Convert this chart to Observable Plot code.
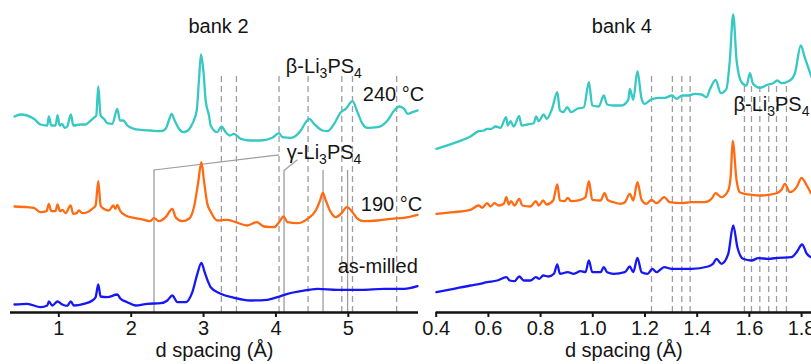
<!DOCTYPE html>
<html><head><meta charset="utf-8">
<script src="https://cdn.jsdelivr.net/npm/d3@7"></script>
<script src="https://cdn.jsdelivr.net/npm/@observablehq/plot@0.6"></script>
<style>
body{margin:0;background:#fff;}
#wrap{position:relative;width:811px;height:364px;overflow:hidden;font-family:"Liberation Sans",Arial,sans-serif;}
#left,#right{position:absolute;top:0;}
#left{left:0;width:420px;z-index:2;}
#right{left:420px;width:391px;z-index:1;}
</style></head><body>
<div id="wrap"><div id="left"></div><div id="right"></div></div>
<script>
// ---------- bank 2 (d spacing in Å, intensity offset in arbitrary units) ----------
const b2_240_d = [0.387,0.47,0.654,0.747,0.84,0.862,0.895,0.954,0.982,1.01,1.047,1.079,1.116,1.166,1.2,1.30,1.37,1.44,1.484,1.517,1.545,1.577,1.622,1.67,1.739,1.808,1.844,1.89,1.946,2.037,2.13,2.268,2.407,2.476,2.52,2.559,2.60,2.66,2.72,2.784,2.845,2.905,2.936,2.964,2.997,3.029,3.075,3.098,3.19,3.246,3.306,3.365,3.42,3.513,3.651,3.79,3.95,4.043,4.09,4.205,4.343,4.412,4.458,4.527,4.643,4.712,4.804,4.896,4.965,5.058,5.127,5.196,5.266,5.404,5.542,5.634,5.703,5.772,5.819,5.888,5.957];
const b2_240_i = [196,198,193.7,188,187,196,187,187,197.3,187,188.7,184.7,186,198,187,188,188,192,194.7,197,226,197,193.7,189.3,188.7,203.7,192,192,187,183.7,182.7,182,181.3,183.7,192,198.7,192,183.7,180.3,182,188.7,202,232,258,242,212,197,187,180.3,186,180.3,177,178.7,173.7,172,172,174.7,179.3,175.3,174.7,182,190.3,193.7,188.7,182,181.3,188.7,200.3,203.7,211.3,200.3,188.7,184.7,185.3,192,202,206,203.7,198.7,200.3,202];

const b2_190_d = [0.387,0.563,0.654,0.747,0.83,0.862,0.895,0.954,0.982,1.014,1.051,1.093,1.162,1.2,1.245,1.277,1.324,1.393,1.462,1.508,1.545,1.577,1.622,1.692,1.752,1.784,1.808,1.844,1.922,2.037,2.176,2.259,2.314,2.383,2.476,2.568,2.614,2.707,2.798,2.867,2.923,2.97,3.005,3.052,3.098,3.19,3.329,3.444,3.606,3.734,3.836,3.974,4.043,4.104,4.159,4.297,4.436,4.55,4.61,4.647,4.689,4.758,4.827,4.906,4.979,5.058,5.127,5.219,5.404,5.588,5.772,5.957];
const b2_190_i = [106,105.3,104.7,100.3,101.3,108.7,101.3,101.3,108,101.3,102.7,99.3,107,98.7,99.3,102,99.3,100.3,103.7,107,131.3,107,103.7,102,107,103.7,107.7,102,97,94.7,92.7,91.3,94.3,91.3,95.3,103.7,95.3,91.3,93.7,105.3,128.7,150.3,132,108.7,101,92,92.7,90.3,87,90.3,86,85.3,90.3,96,90.3,89.3,93.7,102,112,119.7,112,100.3,95.3,99.3,105.3,100.3,93.7,91.3,92,93.7,94.7,97.7];

const b2_mill_d = [0.387,0.563,0.747,0.84,0.862,0.909,0.982,1.047,1.116,1.166,1.207,1.346,1.462,1.508,1.545,1.577,1.67,1.808,1.853,1.946,2.061,2.223,2.407,2.5,2.568,2.638,2.752,2.845,2.914,2.97,3.015,3.075,3.098,3.236,3.42,3.651,3.882,4.02,4.159,4.343,4.574,4.851,5.173,5.495,5.772,5.957];
const b2_mill_i = [8,8.7,5.3,7,11,7,11,8,6.7,11,7,8.7,12,15.3,28,16,15.3,18,13.7,10.3,7,8.7,9.3,12,17,10.3,10.3,20.3,38.7,49.7,40.3,28.7,25.3,18.7,14.7,12,12.7,15.3,18.7,21.3,23.7,22.7,22.7,23.7,23.7,26.3];

// ---------- bank 4 ----------
const b4_240_d = [0.401,0.467,0.531,0.563,0.582,0.595,0.611,0.627,0.646,0.668,0.674,0.685,0.697,0.718,0.727,0.749,0.774,0.783,0.793,0.812,0.823,0.844,0.864,0.874,0.887,0.902,0.917,0.94,0.966,0.985,0.998,1.023,1.042,1.055,1.08,1.11,1.136,1.142,1.155,1.171,1.187,1.199,1.222,1.251,1.276,1.304,1.321,1.343,1.366,1.391,1.417,1.436,1.448,1.471,1.49,1.512,1.525,1.538,1.551,1.57,1.589,1.602,1.614,1.64,1.672,1.691,1.707,1.723,1.755,1.774,1.797,1.812,1.825,1.838];
const b4_240_i = [163.7,169.3,176,181.3,182,183.7,183.7,186,184.7,195.3,187,191.3,186,196.3,187,188,189.3,196,191.3,198,193.7,203.7,220.3,202,200.3,205.3,200.3,203.7,205.3,230.3,207,206,217,208,207,207,212.7,223.7,212.7,241.3,213.7,208.7,212.7,214.7,214.7,217,213.7,217,217,218.7,218,215.3,222.7,232.7,219.3,223.7,252,298,252,230.3,227,239.3,228.7,224.7,228,229.3,232,229.3,232,238.7,267,255.3,245.3,235.3];

const b4_190_d = [0.401,0.467,0.531,0.563,0.576,0.595,0.608,0.623,0.64,0.659,0.669,0.678,0.687,0.7,0.718,0.73,0.761,0.782,0.793,0.81,0.823,0.848,0.864,0.874,0.892,0.904,0.917,0.953,0.972,0.985,0.998,1.03,1.045,1.057,1.08,1.106,1.123,1.142,1.155,1.171,1.187,1.206,1.225,1.244,1.274,1.295,1.34,1.378,1.429,1.455,1.471,1.493,1.519,1.529,1.536,1.551,1.563,1.583,1.608,1.64,1.672,1.704,1.723,1.736,1.755,1.781,1.8,1.82,1.836];
const b4_190_i = [98.7,100.3,102.7,107,104.7,109.3,106,109.3,107,108.7,115.3,108,111.3,107,113.7,107,106,111.3,107,112,108,112,128,112,111.3,114.7,111.3,112.7,115.3,131.3,112.7,112,119.3,112.7,110.3,108.7,110.3,118.7,112,130.3,112.7,108.7,112.7,109.3,115.3,110.3,109.3,110.3,110.3,113.7,119.3,115.3,122,138.7,171.5,132,120.3,118.7,117.7,117,117.7,119.3,122.7,128.7,120.3,125.3,134.7,127,119.3];

const b4_mill_d = [0.401,0.467,0.531,0.567,0.595,0.634,0.669,0.682,0.7,0.718,0.736,0.761,0.782,0.795,0.81,0.831,0.851,0.864,0.874,0.904,0.927,0.953,0.972,0.985,0.998,1.03,1.042,1.055,1.08,1.123,1.142,1.155,1.171,1.187,1.21,1.228,1.244,1.274,1.302,1.378,1.442,1.461,1.474,1.493,1.519,1.538,1.554,1.576,1.608,1.634,1.672,1.71,1.761,1.781,1.802,1.82,1.836];
const b4_mill_i = [20.3,23.7,27,28.7,30.3,32,35.3,32,31.3,36,32,32,35.3,33.7,37,36,38.7,48,38.7,40.3,38.7,41.3,40.3,52,40.3,40.3,45.3,40.3,38.7,40.3,46,40.3,54.7,40.3,38.7,43.7,40.3,45.3,43.7,43.7,46,48.7,53.7,48.7,58.7,87,65.3,53.7,52,54.3,53.7,54.7,55.3,60.3,68,58.7,55.3];

// ---------- reflection markers ----------
const b2_betaD = [3.246,3.454,4.043,4.444,4.91,5.058,5.668];
const b2_betaTop = 236;
const b2_gammaD = [2.315,4.112,4.651,4.99];
const b2_gammaTop = [142.5,142,142,142];
const b2_gammaLinkFrom = [[2.315,142.5],[4.112,142]];
const b2_gammaLinkTo = [[4.043,157.7],[4.297,152.7]];
const b4_betaD1 = [1.225,1.305,1.341,1.373];
const b4_betaD2 = [1.581,1.608,1.64,1.674,1.704,1.742];
const b4_betaTop1 = 237, b4_betaTop2 = 228;

// ---------- text ----------
const b2_labelsStart = [
  {d:4.137, i:239.3, t:"β-Li3PS4"},
  {d:5.2, i:211.5, t:"240 °C"},
  {d:4.151, i:153.5, t:"γ-Li3PS4"},
  {d:5.173, i:102, t:"190 °C"}
];
const b2_labelsEnd = [{d:5.96, i:40, t:"as-milled"}];
const b4_labelsStart = [{d:1.539, i:201.3, t:"β-Li3PS4"}];
const b2_ticks = [1,2,3,4,5];
const b4_ticks = [0.4,0.6,0.8,1.0,1.2,1.4,1.6,1.8];

const cyan = "#36c8c3", orange = "#ff6b12", blue = "#1717f5";
const FONT = "'Liberation Sans', Arial, Helvetica, sans-serif";
const INK = "#151515";
const zipS = (d, i) => d.map((v, k) => ({d: v, i: i[k]}));

function lines(sets) {
  return sets.map(([d, i, c]) => Plot.line(zipS(d, i), {x: "d", y: "i", stroke: c, strokeWidth: 2.3, curve: "monotone-x"}));
}
const dashStyle = {stroke: "#9d9d9d", strokeWidth: 1.3, strokeDasharray: "6,4"};
const axisOpts = {tickSize: 5, tickPadding: 3, strokeWidth: 2, fontSize: 20, fill: INK, label: "d spacing (Å)", labelAnchor: "center", labelOffset: 44, labelArrow: "none"};

const left = Plot.plot({
  width: 420, height: 364, marginLeft: 10, marginRight: 2, marginTop: 0, marginBottom: 52,
  style: {background: "transparent", overflow: "visible", fontFamily: FONT, fontSize: "20px", color: INK},
  x: {domain: [0.332, 5.97]},
  y: {domain: [0, 312], axis: null},
  marks: [
    Plot.ruleX(b2_betaD.map(d => ({d})), {x: "d", y1: 0, y2: b2_betaTop, ...dashStyle}),
    Plot.ruleX(b2_gammaD.map((d, k) => ({d, top: b2_gammaTop[k]})), {x: "d", y1: 0, y2: "top", stroke: "#9d9d9d", strokeWidth: 1.3}),
    Plot.link(b2_gammaLinkFrom.map((p, k) => ({x1: p[0], y1: p[1], x2: b2_gammaLinkTo[k][0], y2: b2_gammaLinkTo[k][1]})), {x1: "x1", y1: "y1", x2: "x2", y2: "y2", stroke: "#9d9d9d", strokeWidth: 1.2}),
    ...lines([[b2_240_d, b2_240_i, cyan], [b2_190_d, b2_190_i, orange], [b2_mill_d, b2_mill_i, blue]]),
    Plot.ruleY([0], {stroke: "#111", strokeWidth: 2.5}),
    Plot.axisX({ticks: b2_ticks, tickFormat: d3.format("d"), ...axisOpts}),
    Plot.text(b2_labelsStart, {x: "d", y: "i", text: "t", textAnchor: "start", lineAnchor: "bottom", fontSize: 20, fill: INK}),
    Plot.text(b2_labelsEnd, {x: "d", y: "i", text: "t", textAnchor: "end", lineAnchor: "bottom", fontSize: 20, fill: INK}),
    Plot.text(["bank 2"], {frameAnchor: "top", lineAnchor: "bottom", dy: 32, dx: 4, fontSize: 20, fill: INK})
  ]
});

const right = Plot.plot({
  width: 391, height: 364, marginLeft: 15.7, marginRight: 0, marginTop: 0, marginBottom: 52,
  style: {background: "transparent", overflow: "visible", fontFamily: FONT, fontSize: "20px", color: INK},
  x: {domain: [0.4, 1.838]},
  y: {domain: [0, 312], axis: null},
  marks: [
    Plot.ruleX(b4_betaD1.map(d => ({d})), {x: "d", y1: 0, y2: b4_betaTop1, ...dashStyle}),
    Plot.ruleX(b4_betaD2.map(d => ({d})), {x: "d", y1: 0, y2: b4_betaTop2, ...dashStyle}),
    ...lines([[b4_240_d, b4_240_i, cyan], [b4_190_d, b4_190_i, orange], [b4_mill_d, b4_mill_i, blue]]),
    Plot.ruleY([0], {stroke: "#111", strokeWidth: 2.5}),
    Plot.axisX({ticks: b4_ticks, tickFormat: d3.format(".1f"), ...axisOpts}),
    Plot.text(b4_labelsStart, {x: "d", y: "i", text: "t", textAnchor: "start", lineAnchor: "bottom", fontSize: 20, fill: INK}),
    Plot.text(["bank 4"], {frameAnchor: "top", lineAnchor: "bottom", dy: 32, dx: -2, fontSize: 20, fill: INK})
  ]
});

function subscripts(svg) {
  d3.select(svg).selectAll("text").each(function () {
    const el = d3.select(this);
    const txt = this.textContent;
    if (!/Li3PS4$/.test(txt) || this.children.length) return;
    const head = txt.replace("Li3PS4", "Li");
    el.text(null);
    el.append("tspan").text(head);
    el.append("tspan").attr("dy", 5).attr("font-size", 14).text("3");
    el.append("tspan").attr("dy", -5).text("PS");
    el.append("tspan").attr("dy", 5).attr("font-size", 14).text("4");
  });
}
subscripts(left); subscripts(right);
document.getElementById("left").append(left);
document.getElementById("right").append(right);
</script>
</body></html>
